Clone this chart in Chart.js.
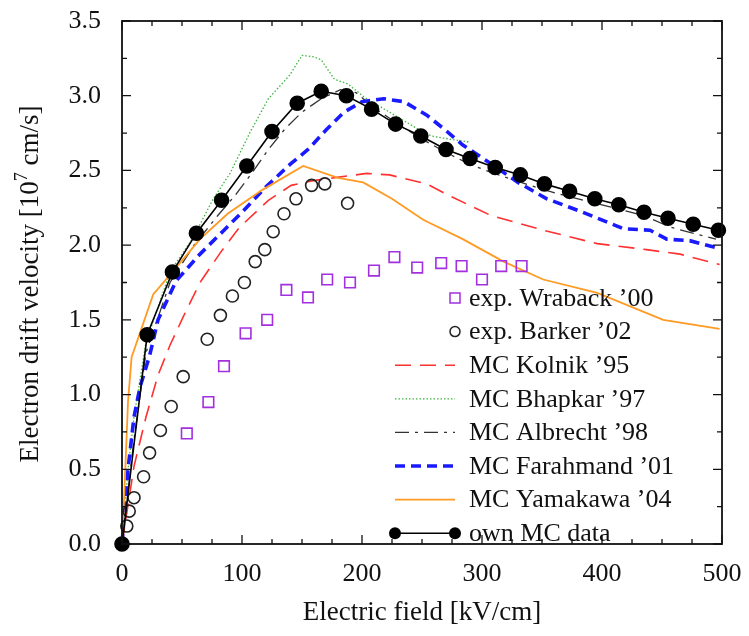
<!DOCTYPE html>
<html>
<head>
<meta charset="utf-8">
<script src="https://cdn.jsdelivr.net/npm/chart.js@4.4.1/dist/chart.umd.min.js"></script>
<style>
  html, body { margin: 0; padding: 0; background: #fff; }
  #wrap { width: 749px; height: 636px; }
</style>
</head>
<body>
<div id="wrap"><canvas id="chart" width="749" height="636"></canvas></div>
<script>
// values (field in kV/cm, velocity in 1e7 cm/s)
const ownField = [0, 21, 42, 62, 83, 104, 125, 146, 166, 187, 208, 228, 249, 270, 290, 311, 332, 352, 373, 394, 414, 435, 455, 476, 497]
const ownVel = [0, 1.40, 1.82, 2.08, 2.30, 2.53, 2.76, 2.95, 3.03, 3.00, 2.91, 2.81, 2.73, 2.64, 2.58, 2.52, 2.47, 2.41, 2.36, 2.31, 2.27, 2.22, 2.18, 2.14, 2.10]

const barkerField = [4, 6, 10, 18, 23, 32, 41, 51, 71, 82, 92, 102, 111, 119, 126, 135, 145, 158, 169, 188]
const barkerVel = [0.12, 0.22, 0.31, 0.45, 0.61, 0.76, 0.92, 1.12, 1.37, 1.53, 1.66, 1.75, 1.89, 1.97, 2.09, 2.21, 2.31, 2.40, 2.41, 2.28]

const wrabackField = [54, 72, 85, 103, 121, 137, 155, 171, 190, 210, 227, 246, 266, 283, 300, 316, 333]
const wrabackVel = [0.74, 0.95, 1.19, 1.41, 1.50, 1.70, 1.65, 1.77, 1.75, 1.83, 1.92, 1.85, 1.88, 1.86, 1.77, 1.86, 1.86]

const kolnikField = [0, 10, 20, 30, 40, 51, 65, 82, 98, 122, 141, 158, 176, 204, 223, 254, 273, 307, 351, 396, 437, 465, 498]
const kolnikVel = [0, 0.52, 0.85, 1.13, 1.33, 1.52, 1.75, 1.95, 2.12, 2.30, 2.40, 2.43, 2.45, 2.48, 2.47, 2.41, 2.33, 2.20, 2.10, 2.01, 1.97, 1.94, 1.87]

const bhapkarField = [0, 5, 10, 20, 40, 60, 76, 90, 107, 122, 140, 150, 160, 166, 177, 188, 202, 225, 248, 258, 273, 289]
const bhapkarVel = [0, 0.5, 0.85, 1.35, 1.82, 2.06, 2.31, 2.48, 2.76, 2.98, 3.14, 3.27, 3.26, 3.24, 3.11, 3.08, 2.99, 2.88, 2.77, 2.73, 2.71, 2.69]

const albrechtField = [0, 10, 20, 40, 60, 80, 94, 108, 122, 136, 150, 166, 182, 195, 210, 230, 250, 270, 290, 310, 340, 365, 400, 434, 457, 495]
const albrechtVel = [0, 0.7, 1.28, 1.75, 2.0, 2.2, 2.33, 2.48, 2.64, 2.78, 2.89, 2.98, 3.04, 3.02, 2.92, 2.81, 2.71, 2.62, 2.54, 2.48, 2.40, 2.34, 2.27, 2.20, 2.12, 2.04]

const farahmandField = [0, 5, 10, 15, 23, 30, 45, 65, 85, 100, 120, 140, 155, 170, 185, 200, 218, 235, 254, 271, 284, 301, 330, 354, 384, 418, 440, 454, 473, 497]
const farahmandVel = [0, 0.5, 0.85, 1.05, 1.26, 1.5, 1.76, 1.94, 2.10, 2.22, 2.39, 2.54, 2.64, 2.77, 2.89, 2.96, 2.98, 2.96, 2.87, 2.76, 2.67, 2.58, 2.42, 2.31, 2.22, 2.11, 2.10, 2.04, 2.03, 1.98]

const yamakawaField = [0, 1, 3, 5, 8, 26, 44, 65, 88, 117, 151, 180, 201, 225, 251, 284, 318, 351, 396, 451, 498]
const yamakawaVel = [0, 0.16, 0.55, 0.95, 1.25, 1.67, 1.84, 2.04, 2.21, 2.37, 2.53, 2.45, 2.42, 2.31, 2.17, 2.04, 1.89, 1.77, 1.68, 1.50, 1.44]

const xTicks = [0, 100, 200, 300, 400, 500]
const yTicks = [0, 0.5, 1.0, 1.5, 2.0, 2.5, 3.0, 3.5]

const legendOrder = ["wraback", "barker", "kolnik", "bhapkar", "albrecht", "farahmand", "yamakawa", "own"]

const serif = '"Liberation Serif", "Times New Roman", serif'

function pts(xs, ys) {
    return xs.map((x, i) => ({ x: x, y: ys[i] }))
}

const datasets = [
    { key: "own", label: "own MC data", data: pts(ownField, ownVel), showLine: true,
      borderColor: "#000", borderWidth: 1.6, pointRadius: 7, pointBackgroundColor: "#000", pointBorderColor: "#000" },
    { key: "barker", label: "exp. Barker ’02", data: pts(barkerField, barkerVel), showLine: false,
      pointStyle: "circle", pointRadius: 6, pointBorderWidth: 1.6, pointBorderColor: "#222", pointBackgroundColor: "rgba(0,0,0,0)" },
    { key: "wraback", label: "exp. Wraback ’00", data: pts(wrabackField, wrabackVel), showLine: false,
      pointStyle: "rect", pointRadius: 7.5, pointBorderWidth: 1.6, pointBorderColor: "#a22fe0", pointBackgroundColor: "rgba(0,0,0,0)" },
    { key: "yamakawa", label: "MC Yamakawa ’04", data: pts(yamakawaField, yamakawaVel), showLine: true,
      borderColor: "#ff9a22", borderWidth: 1.8, pointRadius: 0 },
    { key: "farahmand", label: "MC Farahmand ’01", data: pts(farahmandField, farahmandVel), showLine: true,
      borderColor: "#1a1aff", borderWidth: 3.6, borderDash: [10, 6], pointRadius: 0 },
    { key: "albrecht", label: "MC Albrecht ’98", data: pts(albrechtField, albrechtVel), showLine: true,
      borderColor: "#333", borderWidth: 1.3, borderDash: [14, 6, 3, 6], pointRadius: 0 },
    { key: "bhapkar", label: "MC Bhapkar ’97", data: pts(bhapkarField, bhapkarVel), showLine: true,
      borderColor: "#3db53d", borderWidth: 1.3, borderDash: [1.5, 2], pointRadius: 0 },
    { key: "kolnik", label: "MC Kolnik ’95", data: pts(kolnikField, kolnikVel), showLine: true,
      borderColor: "#ff3030", borderWidth: 1.6, borderDash: [16, 9], pointRadius: 0 }
]
datasets.forEach(d => { d.clip = false; d.tension = 0 })

// tick label overflow would otherwise push the plot area in
function fixSize(prop, size) {
    return s => {
        s[prop] = size
        s.paddingTop = 0; s.paddingBottom = 0; s.paddingLeft = 0; s.paddingRight = 0
    }
}

// frame, inward ticks, legend and axis titles
const decor = {
    id: "decor",
    afterDraw(chart) {
        const ctx = chart.ctx
        const a = chart.chartArea
        const xs = chart.scales.x, ys = chart.scales.y
        ctx.save()
        ctx.strokeStyle = "#111"
        ctx.lineWidth = 1.8
        ctx.setLineDash([])
        ctx.strokeRect(a.left, a.top, a.right - a.left, a.bottom - a.top)

        ctx.lineWidth = 1.3
        ctx.beginPath()
        for (let v = 0; v <= 500; v += 25) {
            const px = xs.getPixelForValue(v)
            const len = v % 100 === 0 ? 9 : 5
            ctx.moveTo(px, a.bottom); ctx.lineTo(px, a.bottom - len)
            ctx.moveTo(px, a.top); ctx.lineTo(px, a.top + len)
        }
        for (let v = 0; v <= 3.5001; v += 0.25) {
            const py = ys.getPixelForValue(v)
            const len = Math.abs(v * 2 - Math.round(v * 2)) < 1e-6 ? 9 : 5
            ctx.moveTo(a.left, py); ctx.lineTo(a.left + len, py)
            ctx.moveTo(a.right, py); ctx.lineTo(a.right - len, py)
        }
        ctx.stroke()

        // legend
        ctx.font = "26px " + serif
        ctx.textBaseline = "middle"
        ctx.textAlign = "left"
        const sx0 = 395, sx1 = 455, tx = 469
        legendOrder.forEach((key, i) => {
            const d = datasets.find(s => s.key === key)
            const y = 298 + i * 33.6
            ctx.save()
            if (d.showLine) {
                ctx.strokeStyle = d.borderColor
                ctx.lineWidth = d.borderWidth
                ctx.setLineDash(d.borderDash || [])
                ctx.beginPath(); ctx.moveTo(sx0, y); ctx.lineTo(sx1, y); ctx.stroke()
                if (d.pointRadius > 0) {
                    ctx.fillStyle = d.pointBackgroundColor
                    ;[sx0, sx1].forEach(px => { ctx.beginPath(); ctx.arc(px, y, 6, 0, Math.PI * 2); ctx.fill() })
                }
            } else {
                ctx.strokeStyle = d.pointBorderColor
                ctx.lineWidth = 1.5
                ctx.beginPath()
                if (d.pointStyle === "rect") ctx.rect(sx1 - 5, y - 5, 10, 10)
                else ctx.arc(sx1, y, 5, 0, Math.PI * 2)
                ctx.stroke()
            }
            ctx.restore()
            ctx.fillStyle = "#111"
            ctx.fillText(d.label, tx, y + 1)
        })

        // x title
        ctx.font = "27px " + serif
        ctx.textAlign = "center"
        ctx.fillStyle = "#111"
        ctx.fillText("Electric field [kV/cm]", (a.left + a.right) / 2, 613)

        // y title with superscript
        const t1 = "Electron drift velocity [10", t2 = "7", t3 = " cm/s]"
        const supFont = "18px " + serif
        ctx.font = "27px " + serif
        const w1 = ctx.measureText(t1).width, w3 = ctx.measureText(t3).width
        ctx.font = supFont
        const w2 = ctx.measureText(t2).width
        const total = w1 + w2 + w3
        ctx.translate(31, 284)
        ctx.rotate(-Math.PI / 2)
        ctx.textAlign = "left"
        let x0 = -total / 2
        ctx.font = "27px " + serif
        ctx.fillText(t1, x0, 0)
        ctx.font = supFont
        ctx.fillText(t2, x0 + w1, -9)
        ctx.font = "27px " + serif
        ctx.fillText(t3, x0 + w1 + w2, 0)
        ctx.restore()
    }
}

new Chart(document.getElementById("chart"), {
    type: "scatter",
    data: { datasets: datasets },
    options: {
        responsive: false,
        animation: false,
        devicePixelRatio: 1,
        layout: { padding: { top: 21, right: 27, left: 0, bottom: 0 } },
        plugins: { legend: { display: false }, tooltip: { enabled: false } },
        scales: {
            x: {
                type: "linear", min: 0, max: 500,
                grid: { display: false, drawTicks: false },
                border: { display: false },
                afterBuildTicks: s => { s.ticks = xTicks.map(v => ({ value: v })) },
                ticks: { color: "#111", padding: 15, maxRotation: 0, font: { family: serif, size: 26 } },
                afterFit: fixSize("height", 92)
            },
            y: {
                type: "linear", min: 0, max: 3.5,
                grid: { display: false, drawTicks: false },
                border: { display: false },
                afterBuildTicks: s => { s.ticks = yTicks.map(v => ({ value: v })) },
                ticks: { color: "#111", padding: 21, font: { family: serif, size: 26 }, callback: v => v.toFixed(1) },
                afterFit: fixSize("width", 122)
            }
        }
    },
    plugins: [decor]
})
</script>
</body>
</html>
